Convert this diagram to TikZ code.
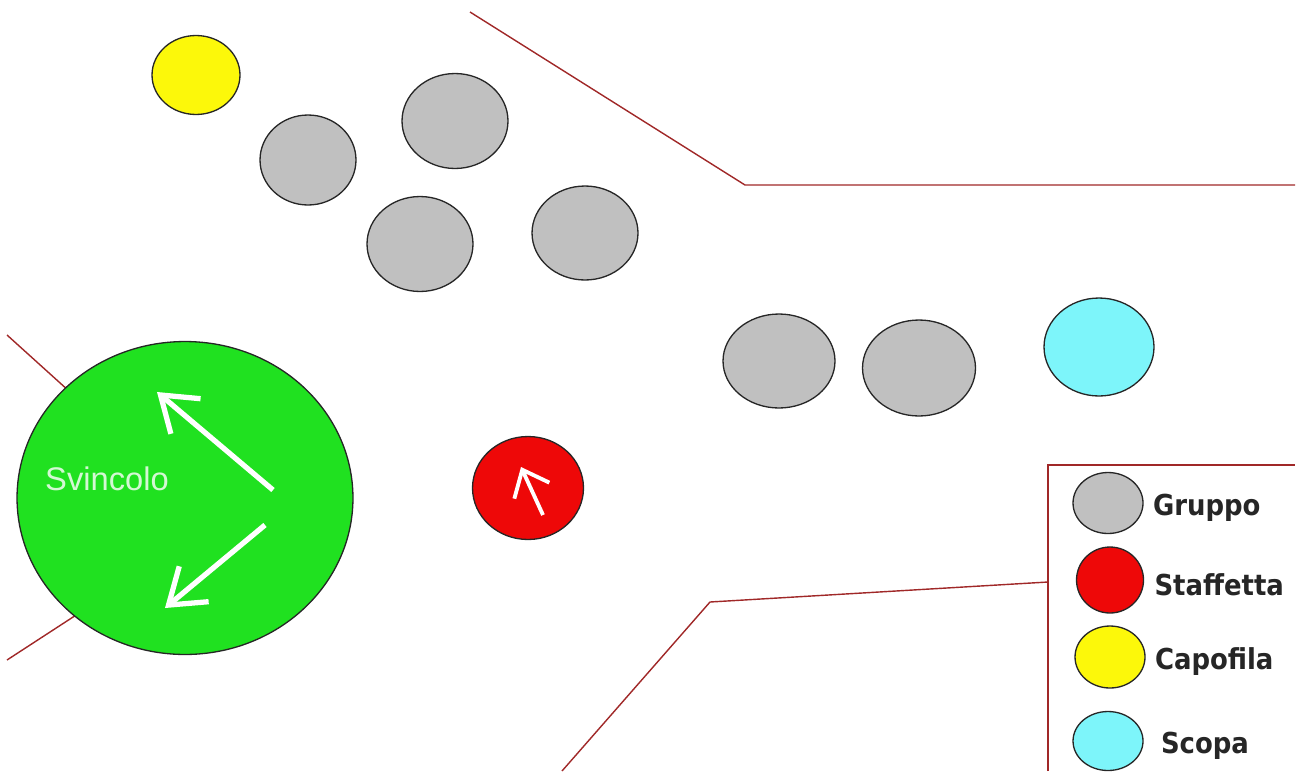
\documentclass[tikz,border=0pt]{standalone}
\usepackage{fontspec}
\usepackage{tikz}
\usetikzlibrary{shapes.geometric,positioning,arrows.meta}
\definecolor{roadRed}{RGB}{160,40,40}
\definecolor{gruppoGray}{RGB}{192,192,192}
\definecolor{staffettaRed}{RGB}{238,8,8}
\definecolor{capofilaYellow}{RGB}{252,248,10}
\definecolor{scopaCyan}{RGB}{125,245,250}
\definecolor{svincoloGreen}{RGB}{32,225,32}
\definecolor{labelGreen}{RGB}{212,248,212}
\newfontfamily\legendfont{DejaVu Sans Condensed}
\newfontfamily\svincolofont{Liberation Sans}

\begin{document}
\begin{tikzpicture}[x=0.02cm, y=-0.02cm,
    dot/.style={ellipse, draw=black!85, line width=0.75pt, inner sep=0pt},
    gruppo/.style={dot, fill=gruppoGray},
    road/.style={roadRed, line width=0.8pt},
    move/.style={white, line width=3pt, -{Straight Barb[length=0.66cm, width=0.92cm]}},
    legend/.style={inner sep=0pt, yshift=-0.1cm, font=\legendfont\bfseries\fontsize{16.4}{18}\selectfont, text=black!85}
]
\useasboundingbox (0,0) rectangle (1300,771);
\draw[road] (470,12) -- (745,185) -- (1295,185);
\draw[road] (562,771) -- (710,602) -- (1048,582);
\draw[road] (1048,771) -- (1048,465) -- (1295,465);
\draw[road] (7,335) -- (90,410);
\draw[road] (7,660) -- (90,606);

\node[dot, fill=capofilaYellow, minimum width=1.76cm, minimum height=1.58cm] (capofila) at (196,75) {};
\node[gruppo, minimum width=1.92cm, minimum height=1.8cm] (g1) at (308,160) {};
\node[gruppo, minimum width=2.12cm, minimum height=1.9cm] (g2) at (455,121) {};
\node[gruppo, minimum width=2.12cm, minimum height=1.9cm] (g3) at (420,244) {};
\node[gruppo, minimum width=2.12cm, minimum height=1.88cm] (g4) at (585,233) {};
\node[gruppo, minimum width=2.24cm, minimum height=1.88cm] (g5) at (779,361) {};
\node[gruppo, minimum width=2.26cm, minimum height=1.92cm] (g6) at (919,368) {};
\node[dot, fill=scopaCyan, minimum width=2.2cm, minimum height=1.96cm] (scopa) at (1099,347) {};

\node[dot, fill=svincoloGreen, minimum width=6.72cm, minimum height=6.26cm] (svincolo) at (185,498) {};
\node[font=\svincolofont\fontsize{18.6}{21}\selectfont, text=labelGreen] (svincolotxt) at (107,479) {Svincolo};
\draw[move] (273,490) -- (157,392);
\draw[move] (265,525) -- (165,608);

\node[dot, fill=staffettaRed, minimum width=2.22cm, minimum height=2.06cm] (staffetta) at (528,488) {};
\draw[move, line width=2.2pt, -{Straight Barb[length=0.46cm, width=0.77cm]}] (543,515) -- (521,467);

\node[gruppo, minimum width=1.4cm, minimum height=1.22cm] (lgruppo) at (1108,503) {};
\node[legend, right=0.18cm of lgruppo] (tgruppo) {Gruppo};
\node[dot, fill=staffettaRed, minimum width=1.34cm, minimum height=1.32cm] (lstaffetta) at (1110,580) {};
\node[legend, right=0.2cm of lstaffetta] (tstaffetta) {Staffetta};
\node[dot, fill=capofilaYellow, minimum width=1.4cm, minimum height=1.24cm] (lcapofila) at (1110,657) {};
\node[legend, right=0.18cm of lcapofila] (tcapofila) {Capofila};
\node[dot, fill=scopaCyan, minimum width=1.4cm, minimum height=1.18cm] (lscopa) at (1108,741) {};
\node[legend, right=0.34cm of lscopa] (tscopa) {Scopa};
\end{tikzpicture}
\end{document}
